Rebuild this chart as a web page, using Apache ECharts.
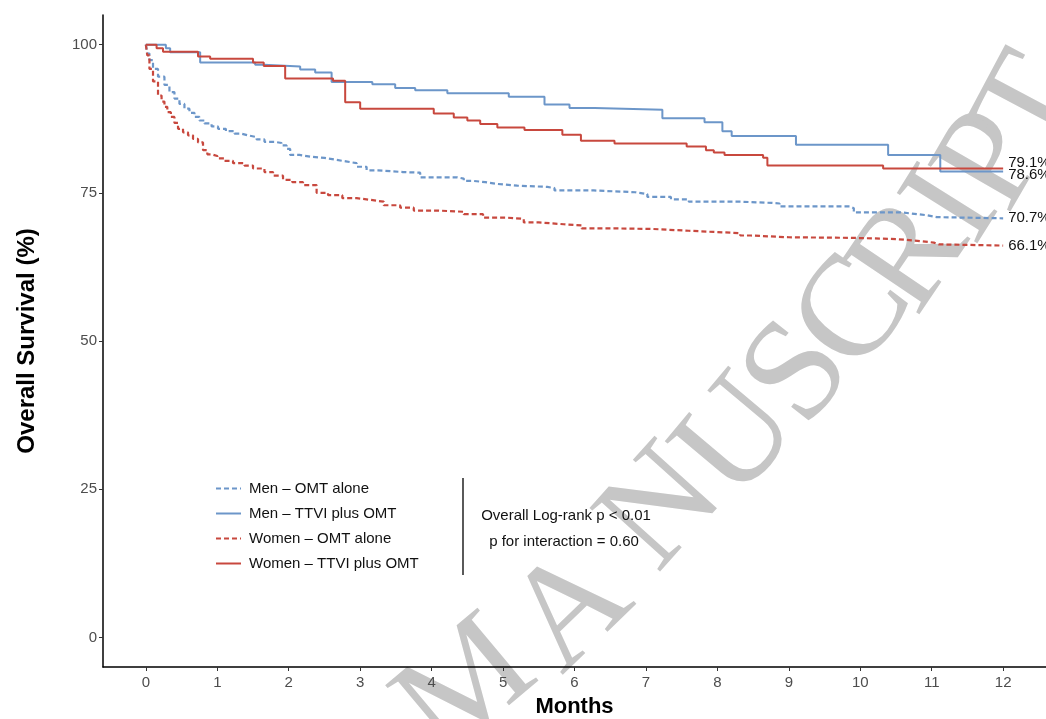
<!DOCTYPE html>
<html>
<head>
<meta charset="utf-8">
<title>Overall Survival</title>
<script src="https://cdn.jsdelivr.net/npm/echarts@6/dist/echarts.min.js"></script>
<style>
    html, body { margin: 0; padding: 0; background: #fff; }
    #chart { width: 1046px; height: 719px; }
</style>
</head>
<body>
<div id="chart"></div>
<script>
// tick labels
const xTicks = [0, 1, 2, 3, 4, 5, 6, 7, 8, 9, 10, 11, 12];
const yTicks = [0, 25, 50, 75, 100];

// group names (legend order) and the % printed at the end of each curve
const groupNames = ['Men – OMT alone', 'Men – TTVI plus OMT', 'Women – OMT alone', 'Women – TTVI plus OMT'];
const endLabels = ['70.7%', '78.6%', '66.1%', '79.1%'];

// Kaplan-Meier steps: [month, survival %]
const menOmtAlone = [
    [0, 100], [0.02, 98.5], [0.05, 97.4], [0.1, 95.9], [0.17, 94.6], [0.26, 93.2], [0.33, 92.0],
    [0.4, 90.9], [0.47, 90.0], [0.54, 89.2], [0.61, 88.5], [0.68, 87.8], [0.75, 87.2], [0.82, 86.7],
    [0.92, 86.2], [1.01, 85.8], [1.12, 85.4], [1.24, 85.0], [1.33, 84.7], [1.43, 84.4], [1.55, 84.0],
    [1.66, 83.6], [1.8, 83.4], [1.9, 83.0], [1.97, 82.4], [2.02, 81.4], [2.15, 81.1], [2.3, 80.9],
    [2.5, 80.6], [2.65, 80.3], [2.8, 80.0], [2.95, 79.4], [3.09, 78.8], [3.25, 78.5], [3.6, 78.4],
    [3.84, 77.6], [4.36, 77.4], [4.45, 77.0], [4.59, 76.8], [4.75, 76.5], [4.92, 76.2], [5.2, 76.0],
    [5.62, 75.8], [5.72, 75.4], [6.27, 75.1], [6.85, 74.8], [7.02, 74.3], [7.35, 73.9], [7.6, 73.5],
    [8.33, 73.3], [8.76, 73.2], [8.87, 72.7], [9.86, 72.4], [9.91, 71.7], [10.57, 71.4], [10.8, 71.2],
    [10.94, 70.9], [11.07, 70.7], [12, 70.7]
];
const menTtviOmt = [
    [0, 100], [0.28, 99.4], [0.34, 98.7], [0.76, 97.0], [1.53, 96.6], [1.65, 96.3], [2.16, 95.8],
    [2.37, 95.3], [2.6, 93.7], [3.17, 93.3], [3.49, 92.7], [3.77, 92.3], [4.22, 91.8], [5.08, 91.2],
    [5.58, 89.9], [5.93, 89.3], [6.28, 89.0], [7.23, 87.6], [7.82, 86.9], [8.07, 85.4], [8.2, 84.6],
    [9.1, 83.1], [10.39, 81.4], [11.12, 78.6], [12, 78.6]
];
const womenOmtAlone = [
    [0, 100], [0.02, 98.2], [0.05, 95.9], [0.1, 93.8], [0.17, 91.4], [0.22, 90.4], [0.26, 89.5],
    [0.3, 88.6], [0.35, 87.8], [0.4, 86.8], [0.45, 85.8], [0.52, 85.2], [0.59, 84.7], [0.66, 84.1],
    [0.73, 83.5], [0.8, 82.2], [0.86, 81.5], [0.92, 81.2], [1.0, 80.8], [1.1, 80.4], [1.22, 80.0],
    [1.38, 79.6], [1.5, 79.1], [1.66, 78.5], [1.78, 77.9], [1.92, 77.2], [2.05, 76.8], [2.2, 76.3],
    [2.39, 75.0], [2.55, 74.6], [2.75, 74.1], [2.95, 73.8], [3.15, 73.5], [3.33, 72.9], [3.56, 72.5],
    [3.75, 72.0], [4.1, 71.8], [4.45, 71.4], [4.72, 70.8], [5.06, 70.6], [5.29, 70.0], [5.5, 69.7],
    [5.85, 69.5], [6.1, 69.0], [6.55, 68.9], [7.1, 68.6], [7.6, 68.4], [7.95, 68.2], [8.32, 67.8],
    [8.47, 67.5], [9.0, 67.4], [9.9, 67.2], [10.5, 66.9], [10.8, 66.6], [11.03, 66.3], [11.1, 66.1],
    [12, 66.1]
];
const womenTtviOmt = [
    [0, 100], [0.15, 99.4], [0.24, 98.8], [0.73, 98.0], [0.9, 97.6], [1.5, 97.0], [1.65, 96.4],
    [1.95, 94.3], [2.62, 93.9], [2.79, 90.3], [3.0, 89.2], [4.03, 88.4], [4.31, 87.7], [4.5, 87.2],
    [4.68, 86.6], [4.92, 86.0], [5.3, 85.6], [5.83, 84.8], [6.09, 83.8], [6.56, 83.3], [7.57, 82.8],
    [7.84, 82.2], [7.95, 81.8], [8.1, 81.4], [8.64, 80.9], [8.7, 79.6], [10.32, 79.1], [12, 79.1]
];

// journal watermark, one letter per entry: [char, centre x, centre y, rotation deg]
const watermark = [
    ['M', 468, 690, 40], ['A', 573, 612, 44], ['N', 664, 510, 48], ['U', 740, 440, 50],
    ['S', 800, 375, 52], ['C', 856, 315, 54], ['R', 912, 257, 56], ['I', 955, 207, 58],
    ['P', 995, 162, 60], ['T', 1036, 108, 62]
];

const BLUE = '#6c96c9';
const RED = '#c8483e';
const FONT = '"Liberation Sans", Arial, Helvetica, sans-serif';

function kmSeries(idx, data, color, dashed, labelOffsetY) {
    return {
        name: groupNames[idx],
        type: 'line',
        step: 'end',
        data: data,
        symbol: 'none',
        silent: true,
        z: dashed ? 2 : 3,
        lineStyle: {
            color: color,
            width: dashed ? 2.2 : 2,
            type: dashed ? [5, 3] : 'solid'
        },
        itemStyle: { color: color },
        endLabel: {
            show: true,
            formatter: endLabels[idx],
            distance: 5,
            offset: [0, labelOffsetY],
            color: '#111',
            fontFamily: FONT,
            fontSize: 15
        }
    };
}

const chart = echarts.init(document.getElementById('chart'), null, { renderer: 'canvas' });

const wmGraphics = watermark.map(function (w) {
    return {
        type: 'text',
        x: w[1],
        y: w[2],
        rotation: w[3] * Math.PI / 180,
        z: -1,
        silent: true,
        style: {
            text: w[0],
            font: '145px "Liberation Serif", "Times New Roman", serif',
            fill: '#c6c6c6',
            align: 'center',
            verticalAlign: 'middle'
        }
    };
});

const option = {
    animation: false,
    backgroundColor: '#fff',
    textStyle: { fontFamily: FONT },
    grid: { left: 103, right: 0, top: 15, bottom: 52, containLabel: false, outerBoundsMode: 'none' },
    xAxis: {
        type: 'value',
        min: -0.6,
        max: 12.6,
        name: 'Months',
        nameLocation: 'middle',
        nameGap: 29,
        nameTextStyle: { fontFamily: FONT, fontSize: 22, fontWeight: 'bold', color: '#000' },
        axisLine: { show: true, onZero: false, lineStyle: { color: '#000', width: 1.5 } },
        axisTick: { show: true, length: 4, lineStyle: { color: '#333' }, customValues: xTicks },
        axisLabel: { color: '#4d4d4d', fontSize: 15, margin: 8, customValues: xTicks },
        splitLine: { show: false }
    },
    yAxis: {
        type: 'value',
        min: -5,
        max: 105,
        name: 'Overall Survival (%)',
        nameLocation: 'middle',
        nameGap: 64,
        nameTextStyle: { fontFamily: FONT, fontSize: 24, fontWeight: 'bold', color: '#000' },
        axisLine: { show: true, onZero: false, lineStyle: { color: '#000', width: 1.5 } },
        axisTick: { show: true, length: 4, lineStyle: { color: '#333' }, customValues: yTicks },
        axisLabel: { color: '#4d4d4d', fontSize: 15, margin: 6, customValues: yTicks },
        splitLine: { show: false }
    },
    legend: {
        orient: 'vertical',
        left: 210,
        top: 476,
        itemWidth: 25,
        itemHeight: 14,
        itemGap: 10,
        selectedMode: false,
        data: groupNames,
        itemStyle: { opacity: 0 },
        textStyle: { fontFamily: FONT, fontSize: 15, color: '#111', padding: [0, 0, 0, 3] }
    },
    graphic: wmGraphics.concat([
        // divider between legend and test results
        { type: 'line', shape: { x1: 463, y1: 478, x2: 463, y2: 575 }, style: { stroke: '#000', lineWidth: 1.3 } },
        { type: 'text', x: 566, y: 516, style: { text: 'Overall Log-rank p < 0.01', font: '15px ' + FONT, fill: '#111', align: 'center', verticalAlign: 'middle' } },
        { type: 'text', x: 564, y: 542, style: { text: 'p for interaction = 0.60', font: '15px ' + FONT, fill: '#111', align: 'center', verticalAlign: 'middle' } }
    ]),
    series: [
        kmSeries(0, menOmtAlone, BLUE, true, 0),
        kmSeries(1, menTtviOmt, BLUE, false, 3),
        kmSeries(2, womenOmtAlone, RED, true, 0),
        kmSeries(3, womenTtviOmt, RED, false, -6)
    ]
};

chart.setOption(option);
</script>
</body>
</html>
